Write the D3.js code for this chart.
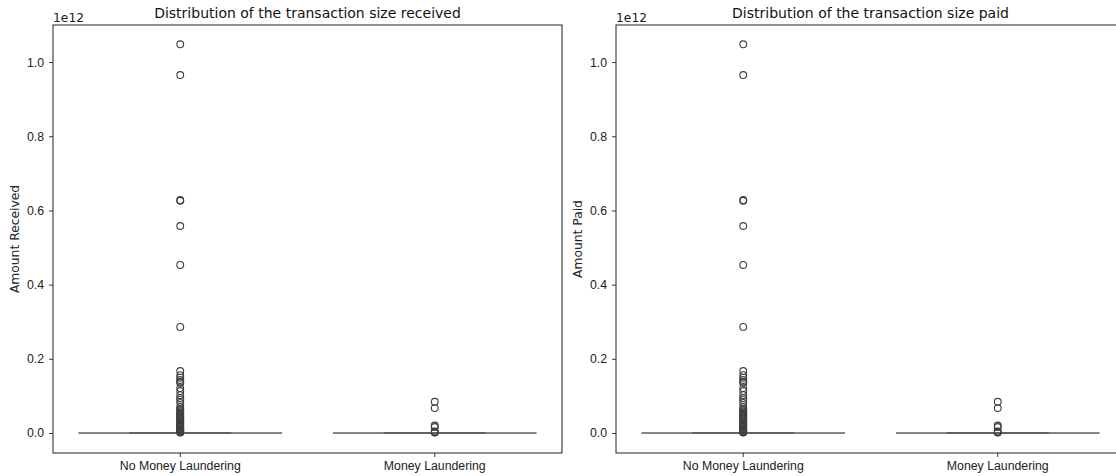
<!DOCTYPE html>
<html>
<head>
<meta charset="utf-8">
<script src="https://cdn.jsdelivr.net/npm/d3@7"></script>
<style>
  body { margin: 0; background: #fff; }
  svg { font-family: "DejaVu Sans", sans-serif; }
</style>
</head>
<body>
<svg id="chart" width="1116" height="476"></svg>
<script>
const categories = ['No Money Laundering', 'Money Laundering'];
const yTicks = [0, 0.2, 0.4, 0.6, 0.8, 1.0];

// outliers in units of 1e12 (box itself collapses to ~0)
const receivedNoML = [1.048, 0.965, 0.628, 0.626, 0.558, 0.453, 0.286, 0.167, 0.156, 0.149, 0.143, 0.138,
  0.135, 0.121, 0.113, 0.102, 0.094, 0.089, 0.081, 0.07, 0.065, 0.061, 0.058, 0.055, 0.052, 0.049, 0.046,
  0.043, 0.04, 0.037, 0.034, 0.031, 0.028, 0.025, 0.022, 0.019, 0.016, 0.013, 0.01, 0.008, 0.006, 0.004,
  0.002, 0.001];
const receivedML = [0.084, 0.067, 0.02, 0.016, 0.004, 0.002, 0.001];
const paidNoML = [1.048, 0.965, 0.628, 0.626, 0.558, 0.453, 0.286, 0.167, 0.156, 0.149, 0.143, 0.138,
  0.135, 0.121, 0.113, 0.102, 0.094, 0.089, 0.081, 0.07, 0.065, 0.061, 0.058, 0.055, 0.052, 0.049, 0.046,
  0.043, 0.04, 0.037, 0.034, 0.031, 0.028, 0.025, 0.022, 0.019, 0.016, 0.013, 0.01, 0.008, 0.006, 0.004,
  0.002, 0.001];
const paidML = [0.084, 0.067, 0.02, 0.016, 0.004, 0.002, 0.001];

const panels = [
  { left: 53, title: 'Distribution of the transaction size received', ylabel: 'Amount Received',
    outliers: [receivedNoML, receivedML] },
  { left: 616, title: 'Distribution of the transaction size paid', ylabel: 'Amount Paid',
    outliers: [paidNoML, paidML] },
];

const svg = d3.select('#chart');
const plotTop = 25, plotBottom = 453, plotWidth = 509;

panels.forEach((p) => {
  const g = svg.append('g').attr('transform', `translate(${p.left},${plotTop})`);
  const innerHeight = plotBottom - plotTop;

  const x = d3.scaleBand().domain(categories).range([0, plotWidth]);
  const y = d3.scaleLinear().domain([-0.054, 1.1]).range([innerHeight, 0]);
  const boxW = x.bandwidth() * 0.8;

  // boxes (collapsed at zero)
  categories.forEach((c, i) => {
    const cx = x(c) + x.bandwidth() / 2;
    g.append('line')
      .attr('x1', cx - boxW / 2).attr('x2', cx + boxW / 2)
      .attr('y1', y(0)).attr('y2', y(0))
      .attr('stroke', '#858585').attr('stroke-width', 2);
    g.append('line')
      .attr('x1', cx - boxW / 4).attr('x2', cx + boxW / 4)
      .attr('y1', y(0)).attr('y2', y(0))
      .attr('stroke', '#626262').attr('stroke-width', 2);

    g.append('g')
      .selectAll('circle')
      .data(p.outliers[i])
      .join('circle')
      .attr('cx', cx)
      .attr('cy', (d) => y(d))
      .attr('r', 3.4)
      .attr('fill', 'none')
      .attr('stroke', '#3f3f3f')
      .attr('stroke-width', 1.1);
  });

  // axes
  const yAxis = g.append('g')
    .call(d3.axisLeft(y).tickValues(yTicks).tickFormat(d3.format('.1f')).tickSize(4).tickPadding(5));
  const xAxis = g.append('g')
    .attr('transform', `translate(0,${innerHeight})`)
    .call(d3.axisBottom(x).tickSize(4).tickPadding(4));
  [yAxis, xAxis].forEach((a) => {
    a.select('.domain').remove();
    a.selectAll('text').attr('fill', '#222').style('font-size', '12.3px');
    a.selectAll('line').attr('stroke', '#222').attr('stroke-width', 0.9);
  });

  g.append('rect')
    .attr('width', plotWidth).attr('height', innerHeight)
    .attr('fill', 'none').attr('stroke', '#222').attr('stroke-width', 1);

  g.append('text')
    .attr('x', 0).attr('y', -3)
    .attr('fill', '#222').style('font-size', '12.3px')
    .text('1e12');

  g.append('text')
    .attr('x', plotWidth / 2).attr('y', -7)
    .attr('text-anchor', 'middle')
    .attr('fill', '#111').style('font-size', '14px')
    .text(p.title);

  g.append('text')
    .attr('transform', `translate(-34,${innerHeight / 2}) rotate(-90)`)
    .attr('text-anchor', 'middle')
    .attr('fill', '#222').style('font-size', '12.3px')
    .text(p.ylabel);
});
</script>
</body>
</html>
